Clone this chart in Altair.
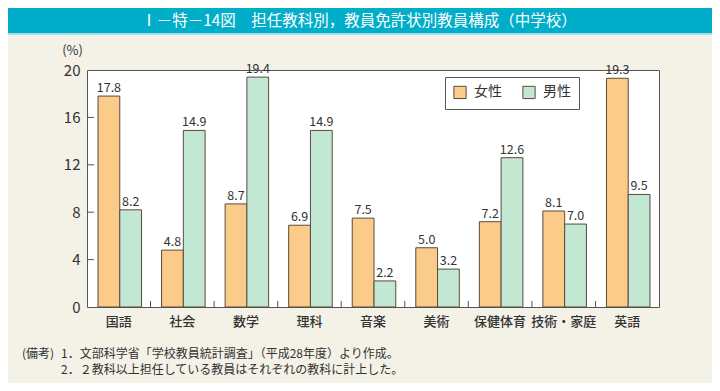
import altair as alt
import pandas as pd

categories = ["国語", "社会", "数学", "理科", "音楽", "美術", "保健体育", "技術・家庭", "英語"]
female = [17.8, 4.8, 8.7, 6.9, 7.5, 5.0, 7.2, 8.1, 19.3]
male = [8.2, 14.9, 19.4, 14.9, 2.2, 3.2, 12.6, 7.0, 9.5]
series = ["女性", "男性"]
y_ticks = [0, 4, 8, 12, 16, 20]
inner_ticks = [4, 8, 12, 16]
title_text = "Ⅰ－特－14図　担任教科別，教員免許状別教員構成（中学校）"
note_head = "(備考)"
note_lines = [
    "1．文部科学省「学校教員統計調査」（平成28年度）より作成。",
    "2．２教科以上担任している教員はそれぞれの教科に計上した。",
]

rows = []
for c, f, m in zip(categories, female, male):
    rows.append({"cat": c, "sex": series[0], "v": f})
    rows.append({"cat": c, "sex": series[1], "v": m})
df = pd.DataFrame(rows)

FONT = "Noto Sans CJK JP"
W, H = 572, 237
DARK = "#555555"
TXT = "#333333"

x_scale = alt.Scale(domain=categories, paddingInner=0, paddingOuter=0)
xo_scale = alt.Scale(domain=series, paddingInner=0, paddingOuter=0.46, align=0.55)
y_scale = alt.Scale(domain=[0, 20], nice=False)
color_scale = alt.Scale(domain=series, range=["#FBCB8A", "#C2E7D3"])

x_axis = alt.Axis(title=None, labelAngle=0, labelFontSize=13, labelColor=TXT, labelFont=FONT,
                  labelFontWeight=500, ticks=False, domain=False, labelPadding=8)
y_axis = alt.Axis(values=y_ticks, title="(%)", titleAngle=0, titleX=-15, titleY=-20,
                  titleAlign="center", titleBaseline="middle", titleFont=FONT, titleFontSize=13,
                  titleFontWeight="normal", titleColor=TXT, grid=False, ticks=False, domain=False,
                  labelPadding=7, labelFontSize=15, labelFont=FONT, labelColor=TXT)

bars = alt.Chart(df).mark_bar(stroke="#5b4a3c", strokeWidth=1).encode(
    x=alt.X("cat:N", scale=x_scale, sort=categories, axis=x_axis),
    xOffset=alt.XOffset("sex:N", scale=xo_scale, sort=series),
    y=alt.Y("v:Q", scale=y_scale, axis=y_axis),
    color=alt.Color("sex:N", scale=color_scale, sort=series, legend=alt.Legend(
        title=None, orient="none", legendX=358, legendY=7, direction="horizontal",
        fillColor="white", strokeColor=DARK, padding=8, symbolType="square", symbolSize=150,
        symbolStrokeColor="#5b4a3c", symbolStrokeWidth=1, symbolOpacity=1, labelFontSize=14,
        labelFont=FONT, labelColor=TXT, columnPadding=18, labelOffset=7, cornerRadius=0)),
)

labels = alt.Chart(df).mark_text(font=FONT, fontSize=12.5, color=TXT, baseline="alphabetic", dy=-4).encode(
    x=alt.X("cat:N", scale=x_scale, sort=categories),
    xOffset=alt.XOffset("sex:N", scale=xo_scale, sort=series),
    y=alt.Y("v:Q", scale=y_scale),
    text=alt.Text("v:Q", format=".1f"),
)

ytick_df = pd.DataFrame({"v": inner_ticks})
yticks = alt.Chart(ytick_df).mark_rule(color=DARK, strokeWidth=1).encode(
    y=alt.Y("v:Q", scale=y_scale), x=alt.value(0), x2=alt.value(7)
)

xtick_df = pd.DataFrame({"cat": categories[:-1]})
xticks = alt.Chart(xtick_df).mark_rule(color=DARK, strokeWidth=1).encode(
    x=alt.X("cat:N", scale=x_scale, sort=categories, bandPosition=1),
    y=alt.value(H - 6), y2=alt.value(H),
)

one = pd.DataFrame({"k": [0]})
title_bar = alt.Chart(one).mark_rect(color="#00AEC9").encode(
    x=alt.value(-79), x2=alt.value(625), y=alt.value(-62), y2=alt.value(-37)
)
title_line = alt.Chart(one).mark_rect(color="#A6DEEA").encode(
    x=alt.value(-79), x2=alt.value(625), y=alt.value(-37), y2=alt.value(-35)
)
title = alt.Chart(one).mark_text(text=title_text, font=FONT, fontSize=15.5, color="white",
                                 align="center", baseline="middle").encode(
    x=alt.value(272), y=alt.value(-49)
)
note0 = alt.Chart(one).mark_text(text=note_head, font=FONT, fontSize=12, color=TXT,
                                 align="left", baseline="middle").encode(
    x=alt.value(-65), y=alt.value(284)
)
note1 = alt.Chart(one).mark_text(text=note_lines[0], font=FONT, fontSize=12, color=TXT,
                                 align="left", baseline="middle").encode(
    x=alt.value(-26), y=alt.value(284)
)
note2 = alt.Chart(one).mark_text(text=note_lines[1], font=FONT, fontSize=12, color=TXT,
                                 align="left", baseline="middle").encode(
    x=alt.value(-26), y=alt.value(300)
)

chart = alt.layer(
    title_bar, title_line, title, bars, labels, yticks, xticks, note0, note1, note2
).properties(
    width=W, height=H,
    padding={"left": 79, "top": 62, "right": 53, "bottom": 76},
    autosize=alt.AutoSizeParams(type="none"),
    background="#F4F1E7",
).configure_view(fill="white", stroke=DARK, strokeWidth=1)

chart.save("out.html", embed_options={"renderer": "svg", "actions": False})
